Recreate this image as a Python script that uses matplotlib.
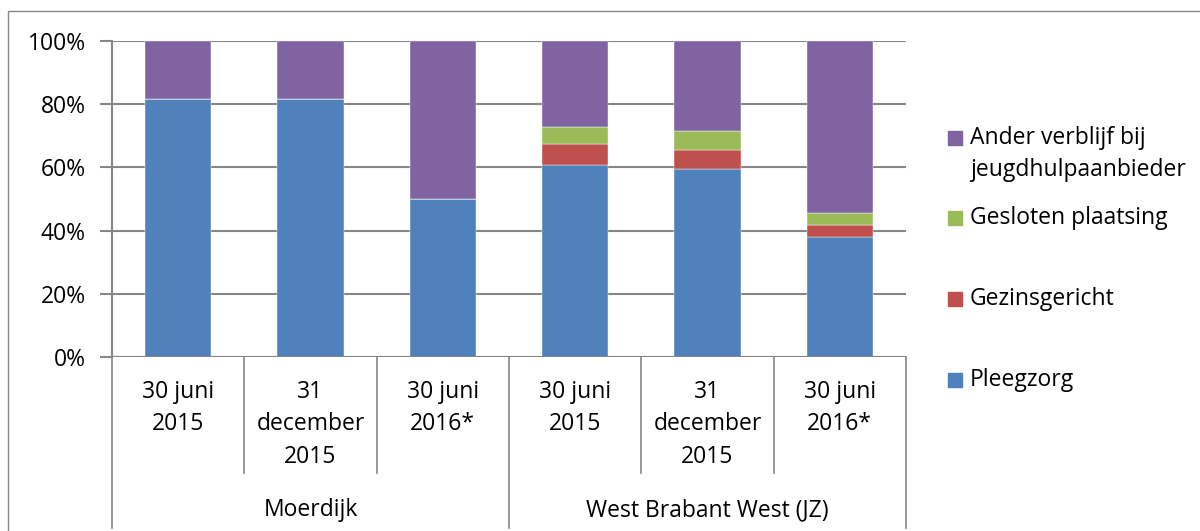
import matplotlib
matplotlib.use("Agg")
import matplotlib.pyplot as plt
from matplotlib.patches import Rectangle
import numpy as np

plt.rcParams['font.family'] = ['Open Sans', 'DejaVu Sans']

# Data (share of placements, %)
periods = ["30 juni\n2015", "31\ndecember\n2015", "30 juni\n2016*",
           "30 juni\n2015", "31\ndecember\n2015", "30 juni\n2016*"]
regions = ["Moerdijk", "West Brabant West (JZ)"]
series_names = ["Pleegzorg", "Gezinsgericht", "Gesloten plaatsing",
                "Ander verblijf bij\njeugdhulpaanbieder"]
pleegzorg = [81.8, 81.8, 50.0, 60.7, 59.6, 38.1]
gezinsgericht = [0.0, 0.0, 0.0, 6.8, 5.9, 3.8]
gesloten = [0.0, 0.0, 0.0, 5.3, 5.9, 3.7]
ander = [18.2, 18.2, 50.0, 27.2, 28.6, 54.4]

colors = ["#4F81BD", "#C0504D", "#9BBB59", "#8064A2"]
grid_col = "#868686"
fs = 16.5

W, H = 1200, 531
fig = plt.figure(figsize=(W / 100, H / 100), dpi=100)

# axes in pixel terms
x0, x1, ytop, ybot = 112, 906, 41, 357
ax = fig.add_axes([x0 / W, 1 - ybot / H, (x1 - x0) / W, (ybot - ytop) / H])

# outer chart frame
fig.patches.append(Rectangle((8 / W, -0.5), 2, 1 - 11 / H + 0.5,
                             transform=fig.transFigure, fill=False,
                             edgecolor=grid_col, lw=1.0))

x = np.arange(len(periods))
bottom = np.zeros(len(periods))
for vals, c in zip([pleegzorg, gezinsgericht, gesloten, ander], colors):
    ax.bar(x, vals, width=0.5, bottom=bottom, color=c, edgecolor="white",
           linewidth=0.3, zorder=3)
    bottom += np.array(vals)

ax.set_xlim(-0.5, len(periods) - 0.5)
ax.set_ylim(0, 100)
ax.set_yticks(np.arange(0, 101, 20))
ax.set_yticklabels([f"{v}%" for v in range(0, 101, 20)], fontsize=fs)
ax.yaxis.grid(True, color=grid_col, lw=1.5, zorder=0)
ax.set_xticks([])
for s in ["top", "right", "bottom"]:
    ax.spines[s].set_visible(False)
ax.spines["left"].set_color(grid_col)
ax.spines["left"].set_linewidth(1.5)
ax.tick_params(axis="y", length=9, width=1.5, color=grid_col, pad=10)
ax.axhline(0, color=grid_col, lw=1.5, zorder=4)

# multi-level category axis
def py(pix):
    return (ybot - pix) / (ybot - ytop) * 100

for i in range(len(periods) + 1):
    xb = i - 0.5
    outer = i in (0, 3, 6)
    yend = py(528 if outer else 473)
    ax.plot([xb, xb], [0, yend], color=grid_col, lw=1.2, clip_on=False,
            zorder=4)

for i, lab in enumerate(periods):
    for j, line in enumerate(lab.split("\n")):
        ax.text(i, py(392 + j * 32.5), line, ha="center", va="center",
                fontsize=fs, clip_on=False)

for g, name in enumerate(regions):
    ax.text(g * 3 + 1, py(510), name, ha="center", va="center",
            fontsize=fs, clip_on=False)

# legend
leg_y = [380, 299, 218, 138]
for name, c, yy in zip(series_names, colors, leg_y):
    fig.patches.append(Rectangle((948 / W, 1 - (yy + 7) / H), 14 / W, 14 / H,
                                 transform=fig.transFigure, color=c))
    for j, line in enumerate(name.split("\n")):
        fig.text(970 / W, 1 - (yy + j * 32.5) / H, line, ha="left",
                 va="center", fontsize=fs)

fig.savefig("out.png", dpi=100)
